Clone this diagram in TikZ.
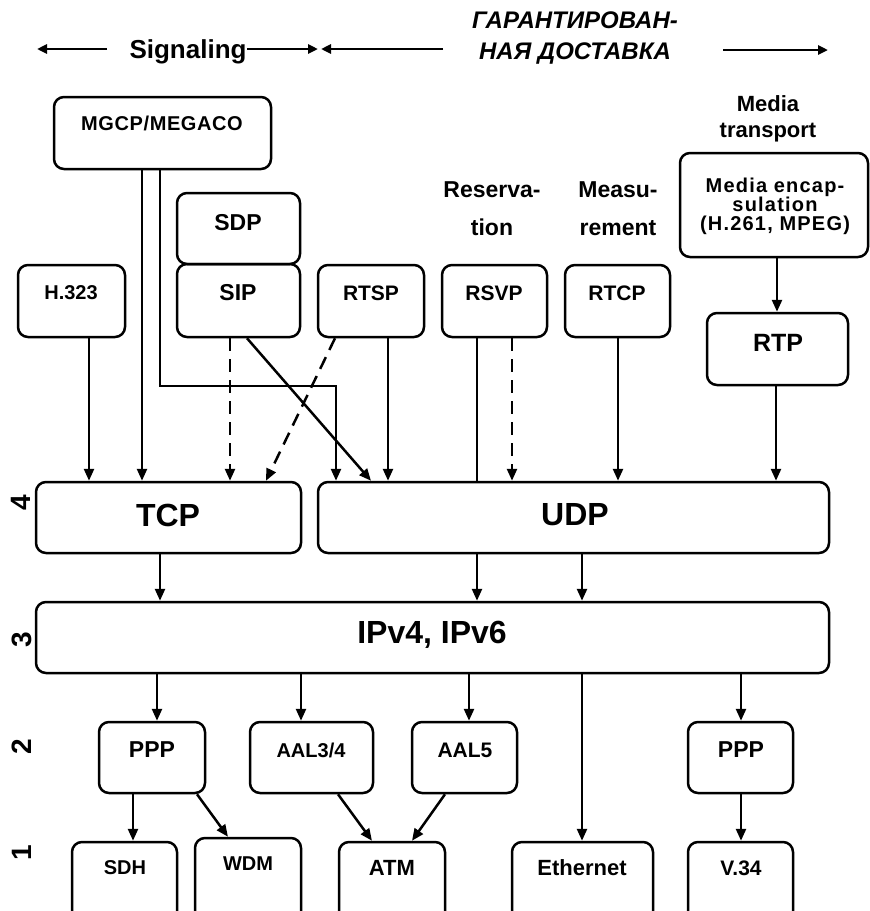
\documentclass[tikz,border=0pt]{standalone}
\usepackage{fontspec}
\setmainfont{Liberation Sans}
\usetikzlibrary{arrows.meta}
\newcommand\myfs[2]{\fontsize{#1}{#2}\selectfont\bfseries}
\begin{document}
\begin{tikzpicture}[x=1pt,y=-1pt,
  box/.style={draw, line width=2.5pt, rounded corners=10pt, inner sep=0pt},
  ln/.style={line width=2.5pt},
  arr/.style={line width=2.5pt, -{Triangle[length=12pt,width=10pt]}},
  harr/.style={line width=2.5pt, -{Triangle[length=10pt,width=9pt]}},
  dsh/.style={dash pattern=on 13pt off 8pt},
  txt/.style={inner sep=0pt, align=center},
]
\useasboundingbox (0,0) rectangle (870,911);

% header
\coordinate (h1s) at (107,49); \coordinate (h1e) at (37,49);
\coordinate (h2s) at (247,49); \coordinate (h2e) at (318,49);
\coordinate (h3s) at (443,49); \coordinate (h3e) at (321,49);
\coordinate (h4s) at (723,50); \coordinate (h4e) at (828,50);
\draw[harr] (h1s) -- (h1e);
\draw[harr] (h2s) -- (h2e);
\draw[harr] (h3s) -- (h3e);
\draw[harr] (h4s) -- (h4e);
\node[txt, font=\myfs{26}{31}] (sig) at (188,52) {Signaling};
\node[txt, font=\myfs{24}{31}\itshape] (gar) at (575,38) {ГАРАНТИРОВАН-\\НАЯ ДОСТАВКА};

\node[txt, font=\myfs{22}{26}] (medt) at (768,119) {Media\\transport};
\node[txt, font=\myfs{23}{38}] (resv) at (492,209) {Reserva-\\tion};
\node[txt, font=\myfs{23}{38}] (meas) at (618,209) {Measu-\\rement};

% boxes
\node[box, minimum width=217pt, minimum height=72pt] (mgcp) at (162.5,133) {};
\node[box, minimum width=123pt, minimum height=71pt] (sdp) at (238.5,228.5) {};
\node[box, minimum width=123pt, minimum height=73pt] (sip) at (238.5,300.5) {};
\node[box, minimum width=107pt, minimum height=72pt] (h323) at (71.5,301) {};
\node[box, minimum width=106pt, minimum height=72pt] (rtsp) at (371,301) {};
\node[box, minimum width=105pt, minimum height=72pt] (rsvp) at (494.5,301) {};
\node[box, minimum width=105pt, minimum height=72pt] (rtcp) at (617.5,301) {};
\node[box, minimum width=188pt, minimum height=104pt] (encap) at (774,205) {};
\node[box, minimum width=141pt, minimum height=72pt] (rtp) at (777.5,349) {};
\node[box, minimum width=265pt, minimum height=71pt] (tcp) at (168.5,517.5) {};
\node[box, minimum width=511pt, minimum height=71pt] (udp) at (573.5,517.5) {};
\node[box, minimum width=793pt, minimum height=71pt] (ip) at (432.5,637.5) {};
\node[box, minimum width=106pt, minimum height=71pt] (ppp1) at (152,757.5) {};
\node[box, minimum width=123pt, minimum height=71pt] (aal34) at (311.5,757.5) {};
\node[box, minimum width=105pt, minimum height=71pt] (aal5) at (464.5,757.5) {};
\node[box, minimum width=105pt, minimum height=71pt] (ppp2) at (740.5,757.5) {};
\node[box, minimum width=105pt, minimum height=88pt] (sdh) at (124.5,886) {};
\node[box, minimum width=106pt, minimum height=92pt] (wdm) at (248,884) {};
\node[box, minimum width=106pt, minimum height=88pt] (atm) at (392,886) {};
\node[box, minimum width=141pt, minimum height=88pt] (eth) at (582.5,886) {};
\node[box, minimum width=105pt, minimum height=88pt] (v34) at (740.5,886) {};

% box texts
\node[txt, font=\myfs{20}{24}\addfontfeatures{LetterSpace=3}] (tmgcp) at (162,123) {MGCP/MEGACO};
\node[txt, font=\myfs{23}{26}] (tsdp) at (238,223) {SDP};
\node[txt, font=\myfs{23}{26}] (tsip) at (238,293) {SIP};
\node[txt, font=\myfs{20}{24}] (th323) at (71,293) {H.323};
\node[txt, font=\myfs{21}{24}] (trtsp) at (371,293) {RTSP};
\node[txt, font=\myfs{21}{24}] (trsvp) at (494,293) {RSVP};
\node[txt, font=\myfs{21}{24}] (trtcp) at (617,293) {RTCP};
\node[txt, font=\myfs{20}{19}\addfontfeatures{LetterSpace=6}] (tencap) at (775,206) {Media encap-\\sulation\\(H.261, MPEG)};
\node[txt, font=\myfs{25}{28}] (trtp) at (778,343) {RTP};
\node[txt, font=\myfs{32}{36}] (ttcp) at (168,515) {TCP};
\node[txt, font=\myfs{32}{36}] (tudp) at (575,515) {UDP};
\node[txt, font=\myfs{32}{36}] (tip) at (432,635) {IPv4, IPv6};
\node[txt, font=\myfs{23}{26}] (tppp1) at (152,750) {PPP};
\node[txt, font=\myfs{20}{24}] (taal34) at (311,750) {AAL3/4};
\node[txt, font=\myfs{21}{24}] (taal5) at (465,750) {AAL5};
\node[txt, font=\myfs{23}{26}] (tppp2) at (741,750) {PPP};
\node[txt, font=\myfs{20}{24}] (tsdh) at (125,868) {SDH};
\node[txt, font=\myfs{20}{24}] (twdm) at (248,864) {WDM};
\node[txt, font=\myfs{22}{24}] (tatm) at (392,868) {ATM};
\node[txt, font=\myfs{22}{24}] (teth) at (582,868) {Ethernet};
\node[txt, font=\myfs{21}{24}] (tv34) at (741,868) {V.34};

% layer numbers
\node[txt, rotate=90, font=\myfs{28}{30}] (l4) at (21,503) {4};
\node[txt, rotate=90, font=\myfs{28}{30}] (l3) at (22,640) {3};
\node[txt, rotate=90, font=\myfs{28}{30}] (l2) at (22,747) {2};
\node[txt, rotate=90, font=\myfs{28}{30}] (l1) at (22,853) {1};

% connectors to layer 4
\draw[arr] (89,0 |- h323.south) -- (89,0 |- tcp.north);
\draw[arr] (142,0 |- mgcp.south) -- (142,0 |- tcp.north);
\draw[arr] (160,0 |- mgcp.south) -- (160,386) -- (336,386) -- (336,0 |- udp.north);
\draw[arr,dsh] (230,0 |- sip.south) -- (230,0 |- tcp.north);
\draw[arr] (247,0 |- sip.south) -- (371,0 |- udp.north);
\draw[arr,dsh] (335,0 |- rtsp.south) -- (266,0 |- tcp.north);
\draw[arr] (388,0 |- rtsp.south) -- (388,0 |- udp.north);
\draw[ln] (477,0 |- rsvp.south) -- (477,0 |- udp.north);
\draw[arr,dsh] (512,0 |- rsvp.south) -- (512,0 |- udp.north);
\draw[arr] (618,0 |- rtcp.south) -- (618,0 |- udp.north);
\draw[arr] (777,0 |- encap.south) -- (777,0 |- rtp.north);
\draw[arr] (776,0 |- rtp.south) -- (776,0 |- udp.north);

% layer 4 -> 3
\draw[arr] (160,0 |- tcp.south) -- (160,0 |- ip.north);
\draw[arr] (477,0 |- udp.south) -- (477,0 |- ip.north);
\draw[arr] (582,0 |- udp.south) -- (582,0 |- ip.north);

% layer 3 -> 2/1
\draw[arr] (157,0 |- ip.south) -- (157,0 |- ppp1.north);
\draw[arr] (301,0 |- ip.south) -- (301,0 |- aal34.north);
\draw[arr] (469,0 |- ip.south) -- (469,0 |- aal5.north);
\draw[arr] (582,0 |- ip.south) -- (582,0 |- eth.north);
\draw[arr] (741,0 |- ip.south) -- (741,0 |- ppp2.north);

% layer 2 -> 1
\draw[arr] (133,0 |- ppp1.south) -- (133,0 |- sdh.north);
\draw[arr] (197,0 |- ppp1.south) -- (228,0 |- wdm.north);
\draw[arr] (338,0 |- aal34.south) -- (372,0 |- atm.north);
\draw[arr] (445,0 |- aal5.south) -- (412,0 |- atm.north);
\draw[arr] (741,0 |- ppp2.south) -- (741,0 |- v34.north);
\end{tikzpicture}
\end{document}
